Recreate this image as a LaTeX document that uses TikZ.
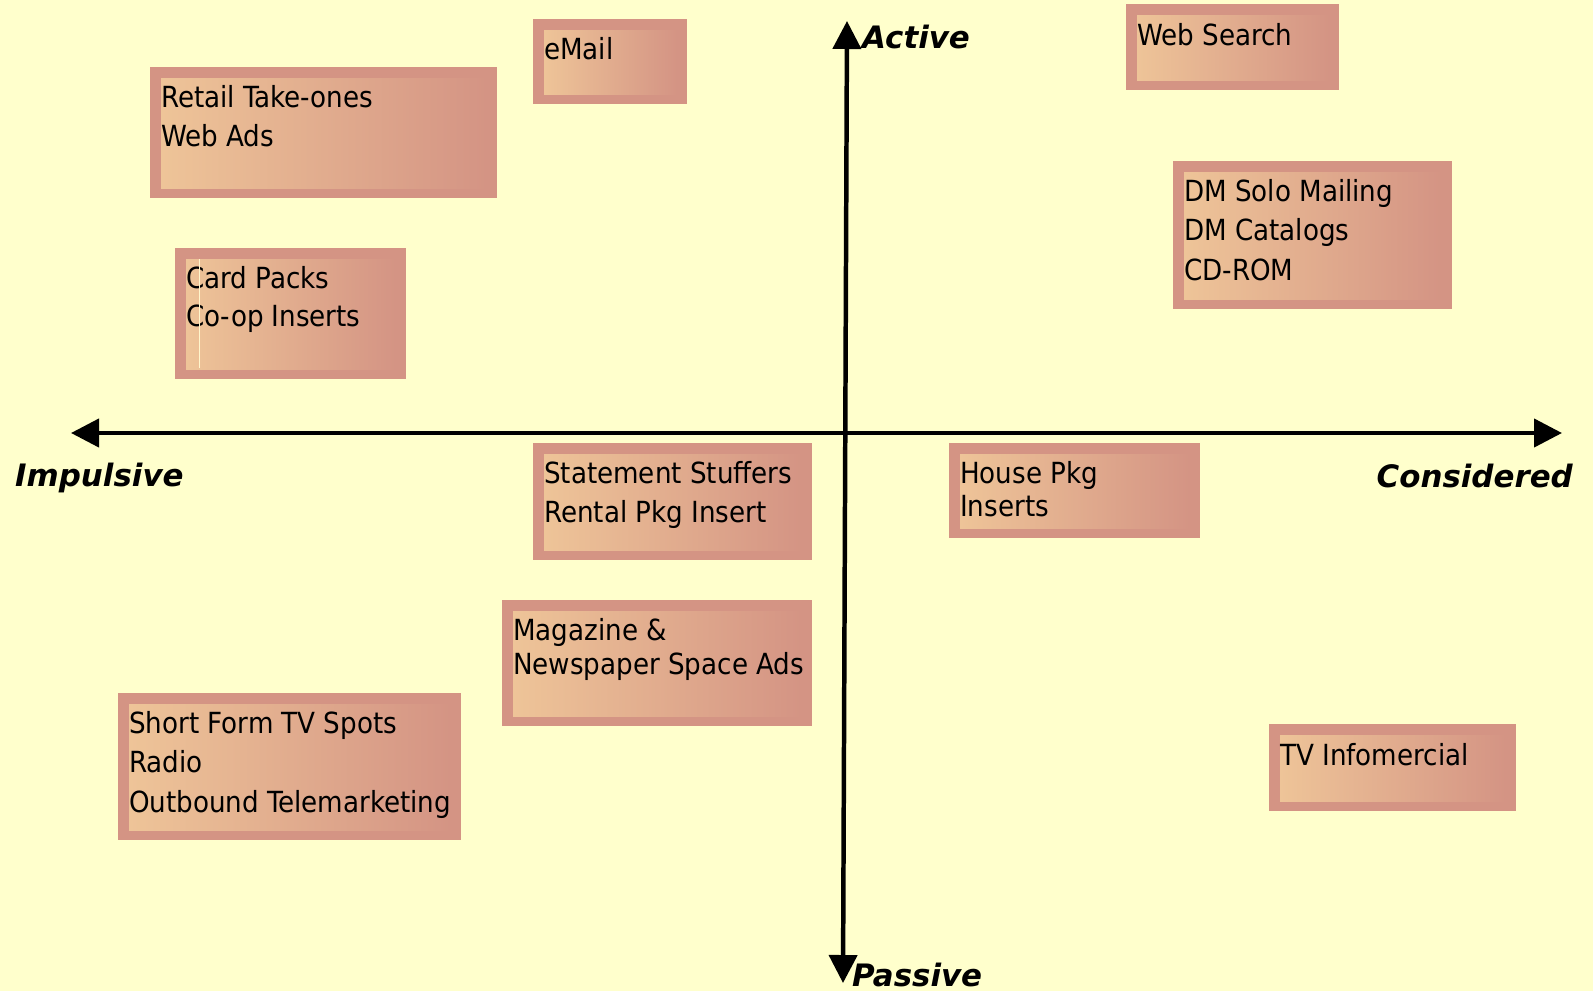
\documentclass[tikz,border=0pt]{standalone}
\usepackage{fontspec}
\usetikzlibrary{arrows.meta}
\newfontfamily\boxfont{DejaVu Sans Condensed}
\newfontfamily\labelfont{DejaVu Sans}
\definecolor{bgyellow}{HTML}{FFFFCC}
\definecolor{boxrose}{HTML}{D49484}
\definecolor{boxpeach}{HTML}{EEC498}
\definecolor{streak}{HTML}{FFF6CC}
\tikzset{
  axisline/.style={line width=4.5pt,{Triangle[length=28bp,width=28bp]}-{Triangle[length=28bp,width=28bp]}},
  axislabel/.style={inner sep=0pt,font=\labelfont\bfseries\itshape\fontsize{31}{35}\selectfont},
  boxtext/.style={inner sep=0pt,anchor=base west}
}

\begin{document}
\begin{tikzpicture}[x=1bp,y=-1bp]
   \fill[bgyellow] (0,0) rectangle (1593,991);
   \useasboundingbox (0,0) rectangle (1593,991);
   \foreach \nm/\xa/\ya/\xb/\yb/\by/\sk/\txt in {
     email/533/19/687/104/59/40/{eMail},
     retail/150/67/497/198/107/40/{Retail Take-ones\\Web Ads},
     websearch/1126/4/1339/90/45/40/{Web Search},
     dmsolo/1173/161/1452/309/201/40/{DM Solo Mailing\\DM Catalogs\\CD-ROM},
     cardpacks/175/248/406/379/288/39/{Card Packs\\Co-op Inserts},
     stuffers/533/443/812/560/483/40/{Statement Stuffers\\Rental Pkg Insert},
     housepkg/949/443/1200/538/483/34/{House Pkg\\Inserts},
     magazine/502/600/812/726/640/35/{Magazine \&\\Newspaper Space Ads},
     shortform/118/693/461/840/733/40/{Short Form TV Spots\\Radio\\Outbound Telemarketing},
     infomercial/1269/724/1516/811/765/40/{TV Infomercial}} {
    \fill[boxrose] (\xa,\ya) rectangle (\xb,\yb);
    \shade[left color=boxpeach,right color=boxrose] (\xa+11,\ya+11) rectangle (\xb-10,\yb-10);
    \node[boxtext,font=\boxfont\fontsize{29.2}{\sk}\selectfont] (\nm) at (\xa+11,\by)
      {\begin{tabular}[t]{@{}l@{}}\txt\end{tabular}};
   }
   \draw[streak,line width=1bp] (199,259) -- (199,368);
   \coordinate (west) at (71,433);
   \coordinate (east) at (1562,433);
   \coordinate (north) at (847,21);
   \coordinate (south) at (843,983);
   \draw[axisline] (west) -- (east);
   \draw[axisline] (south) -- (north);
   \node[axislabel,anchor=base west] (active) at (862,48) {Active};
   \node[axislabel,anchor=base west] (passive) at (852,986) {Passive};
   \node[axislabel,anchor=base west] (impulsive) at (15,486) {Impulsive};
   \node[axislabel,anchor=base east] (considered) at (1573,487) {Considered};
\end{tikzpicture}
\end{document}
